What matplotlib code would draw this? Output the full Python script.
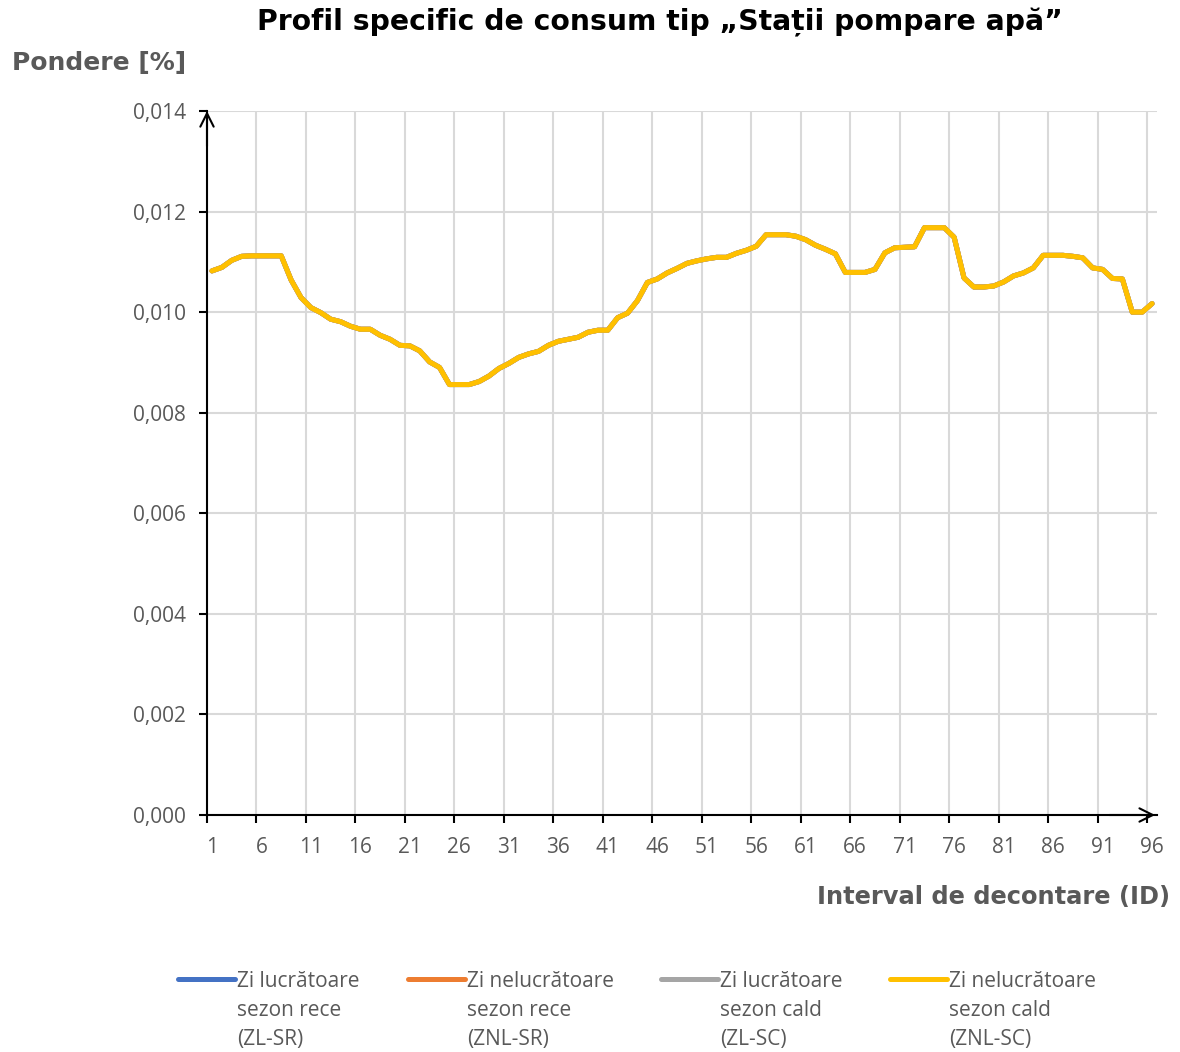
import matplotlib
matplotlib.use("Agg")
import matplotlib.pyplot as plt
from matplotlib.lines import Line2D
import numpy as np

intervals = list(range(1, 97))
znl_sc = [
    0.01082, 0.01089, 0.01103, 0.01111, 0.01112, 0.01112, 0.01112, 0.01112, 0.01064, 0.01029,
    0.01009, 0.00999, 0.00986, 0.00981, 0.00972, 0.00966, 0.00966, 0.00954, 0.00946, 0.00934,
    0.00933, 0.00923, 0.00901, 0.00890, 0.00856, 0.00856, 0.00856, 0.00862, 0.00873, 0.00888,
    0.00898, 0.00910, 0.00917, 0.00922, 0.00934, 0.00942, 0.00946, 0.00950, 0.00960, 0.00964,
    0.00964, 0.00989, 0.00998, 0.01023, 0.01059, 0.01066, 0.01078, 0.01087, 0.01097, 0.01102,
    0.01106, 0.01109, 0.01109, 0.01117, 0.01123, 0.01131, 0.01154, 0.01154, 0.01154, 0.01151,
    0.01144, 0.01133, 0.01125, 0.01116, 0.01079, 0.01079, 0.01079, 0.01085, 0.01118, 0.01128,
    0.01129, 0.01130, 0.01168, 0.01168, 0.01168, 0.01149, 0.01068, 0.01050, 0.01050, 0.01052,
    0.01060, 0.01072, 0.01078, 0.01088, 0.01113, 0.01113, 0.01113, 0.01111, 0.01108, 0.01088,
    0.01085, 0.01067, 0.01066, 0.01000, 0.01000, 0.01017,
]
# The other three profiles are hidden behind the yellow one in the reference
zl_sr = list(znl_sc)
znl_sr = list(znl_sc)
zl_sc = list(znl_sc)

series_labels = [
    "Zi lucrătoare\nsezon rece\n(ZL-SR)",
    "Zi nelucrătoare\nsezon rece\n(ZNL-SR)",
    "Zi lucrătoare\nsezon cald\n(ZL-SC)",
    "Zi nelucrătoare\nsezon cald\n(ZNL-SC)",
]
series_colors = ["#4472C4", "#ED7D31", "#A5A5A5", "#FFC000"]
y_ticks = [0.000, 0.002, 0.004, 0.006, 0.008, 0.010, 0.012, 0.014]
x_tick_vals = list(range(1, 97, 5))

title = "Profil specific de consum tip „Stații pompare apă”"
ylabel = "Pondere [%]"
xlabel = "Interval de decontare (ID)"

W, H = 1180, 1052
fig = plt.figure(figsize=(W / 100, H / 100), dpi=100)
fig.patch.set_facecolor("white")
ax = fig.add_axes([207 / W, 1 - 815 / H, 950 / W, 704 / H])

grey_txt = "#595959"
tick_font = "Open Sans"

for data, col in zip([zl_sr, znl_sr, zl_sc, znl_sc], series_colors):
    ax.plot(intervals, data, color=col, lw=3.6, solid_joinstyle="round", solid_capstyle="round", zorder=3)

ax.set_xlim(0.5, 96.5)
ax.set_ylim(0, 0.014)
ax.set_yticks(y_ticks)
ax.set_yticklabels([f"{v:.3f}".replace(".", ",") for v in y_ticks],
                   fontsize=15, color=grey_txt, family=tick_font)
ax.set_xticks(x_tick_vals)
ax.set_xticklabels([str(v) for v in x_tick_vals], fontsize=15, color=grey_txt, family=tick_font)
ax.set_xticks([v - 0.5 for v in x_tick_vals], minor=True)
ax.tick_params(axis="x", which="major", length=0, pad=16)
ax.tick_params(axis="x", which="minor", length=6, width=1.5, color="black", direction="out")
ax.tick_params(axis="y", which="major", length=6, width=1.5, color="black", pad=9)
ax.grid(False)
ax.xaxis.grid(True, which="minor", color="#D9D9D9", lw=1.5)
ax.yaxis.grid(True, which="major", color="#D9D9D9", lw=1.5)
ax.set_axisbelow(True)
for s in ["top", "right"]:
    ax.spines[s].set_visible(False)
for s in ["left", "bottom"]:
    ax.spines[s].set_color("black")
    ax.spines[s].set_linewidth(1.5)
    ax.spines[s].set_zorder(4)

ax.annotate("", xy=(0, 1.0), xytext=(0, 0.95), xycoords="axes fraction",
            arrowprops=dict(arrowstyle="->", lw=1.5, color="black", mutation_scale=24,
                            shrinkA=0, shrinkB=0), zorder=5)
ax.annotate("", xy=(0.998, 0), xytext=(0.95, 0), xycoords="axes fraction",
            arrowprops=dict(arrowstyle="->", lw=1.5, color="black", mutation_scale=24,
                            shrinkA=0, shrinkB=0), zorder=5)

fig.text(660 / W, 1 - 22 / H, title, ha="center", va="center", fontsize=20.3,
         fontweight="bold", color="black", family="DejaVu Sans")
fig.text(12 / W, 1 - 63 / H, ylabel, ha="left", va="center", fontsize=18,
         fontweight="bold", color=grey_txt, family="DejaVu Sans")
fig.text(1170 / W, 1 - 897 / H, xlabel, ha="right", va="center", fontsize=17.4,
         fontweight="bold", color=grey_txt, family="DejaVu Sans")

# Legend
handle_x = [178, 408, 661, 890]
for hx, lab, col in zip(handle_x, series_labels, series_colors):
    fig.add_artist(Line2D([hx / W, (hx + 57) / W], [1 - 979 / H, 1 - 979 / H],
                          color=col, lw=3.6, solid_capstyle="round"))
    fig.text((hx + 59) / W, 1 - 971 / H, lab, ha="left", va="top", fontsize=15,
             color=grey_txt, family=tick_font, linespacing=1.5)

fig.savefig("out.png", dpi=100, facecolor="white")
